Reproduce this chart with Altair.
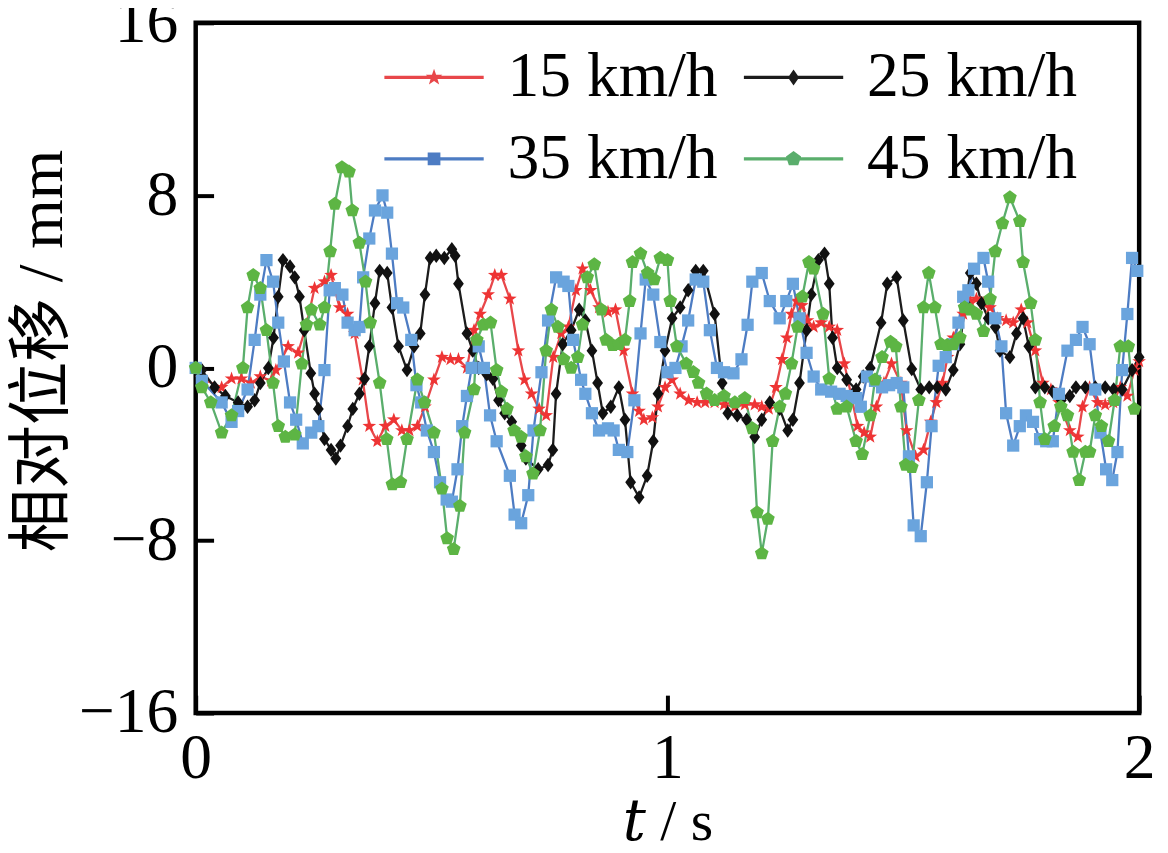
import altair as alt
import pandas as pd

speeds = ["15 km/h", "25 km/h", "35 km/h", "45 km/h"]
line_colors = ["#e8474a", "#1c1c1c", "#4d7cc3", "#5aae6c"]
marker_colors = ["#ee3434", "#111111", "#6aa4dd", "#5db544"]

t_15 = [0, 0.013, 0.055, 0.076, 0.097, 0.117, 0.137, 0.16, 0.17, 0.196, 0.217, 0.235, 0.252, 0.273,
        0.287, 0.305, 0.322, 0.337, 0.354, 0.368, 0.385, 0.402, 0.42, 0.437, 0.453, 0.47, 0.486, 0.505,
        0.522, 0.54, 0.557, 0.575, 0.59, 0.603, 0.62, 0.634, 0.648, 0.666, 0.684, 0.697, 0.712, 0.728,
        0.743, 0.758, 0.775, 0.79, 0.806, 0.82, 0.837, 0.855, 0.874, 0.89, 0.907, 0.926, 0.94, 0.95,
        0.968, 0.98, 0.995, 1.01, 1.027, 1.045, 1.063, 1.08, 1.1, 1.12, 1.143, 1.164, 1.185, 1.2, 1.215,
        1.23, 1.243, 1.253, 1.263, 1.274, 1.285, 1.297, 1.31, 1.326, 1.343, 1.36, 1.375, 1.39, 1.403,
        1.417, 1.43, 1.443, 1.459, 1.475, 1.495, 1.507, 1.526, 1.543, 1.558, 1.57, 1.583, 1.594, 1.606,
        1.627, 1.642, 1.655, 1.67, 1.684, 1.7, 1.718, 1.733, 1.75, 1.763, 1.78, 1.796, 1.813, 1.83,
        1.853, 1.87, 1.88, 1.895, 1.912, 1.928, 1.945, 1.96, 1.975, 1.99, 2.0]
v_15 = [0, -0.5, -0.9, -0.5, -0.5, -0.7, -0.4, -0.6, -0.1, 1.0, 0.7, 2.0, 3.7, 4.0,
        4.3, 2.8, 2.5, 1.6, -0.55, -2.7, -3.4, -2.7, -2.4, -2.9, -2.9, -2.7, -1.8, -0.55,
        0.5, 0.4, 0.4, 0, 1.75, 2.5, 3.4, 4.3, 4.3, 3.2, 0.8, -0.55, -1.2, -1.9,
        -2.2, 0.5, 1.6, 1.9, 3.6, 4.6, 3.6, 2.8, 2.6, 2.7, 0.8, -1.2, -2.0, -2.4,
        -2.3, -1.8, -0.9, -0.55, -1.2, -1.5, -1.6, -1.6, -1.6, -1.7, -1.8, -1.7, -1.7, -1.8, -1.9,
        -0.9, 0.4, 1.4, 2.5, 3.1, 2.9, 2.2, 1.9, 2.1, 1.9, 1.75, 0.2, -1.3, -2.7,
        -3.0, -3.2, -1.8, -0.7, 0.2, -0.7, -2.9, -4.1, -3.8, -2.5, -1.6, -0.7, 0.5, 1.4,
        2.5, 3.1, 3.2, 3.0, 2.8, 2.3, 2.2, 2.1, 2.7, 2.1, 0.8, -0.7, -1.0, -1.6,
        -2.9, -3.2, -1.8, -0.9, -1.6, -1.7, -1.6, -0.9, -1.3, -0.1, 0.3]

t_25 = [0, 0.013, 0.04, 0.063, 0.09, 0.11, 0.125, 0.137, 0.154, 0.165, 0.175, 0.185, 0.2, 0.21, 0.22,
        0.23, 0.244, 0.252, 0.26, 0.273, 0.287, 0.297, 0.307, 0.322, 0.333, 0.347, 0.358, 0.368, 0.38,
        0.39, 0.406, 0.416, 0.43, 0.448, 0.463, 0.476, 0.486, 0.497, 0.51, 0.527, 0.543, 0.55, 0.557,
        0.575, 0.587, 0.6, 0.617, 0.63, 0.642, 0.655, 0.67, 0.69, 0.7, 0.726, 0.747, 0.757, 0.764,
        0.778, 0.796, 0.813, 0.826, 0.84, 0.852, 0.863, 0.88, 0.897, 0.91, 0.922, 0.94, 0.957, 0.97,
        0.98, 0.995, 1.01, 1.027, 1.044, 1.06, 1.076, 1.1, 1.116, 1.128, 1.148, 1.168, 1.185, 1.2,
        1.217, 1.238, 1.255, 1.266, 1.28, 1.295, 1.305, 1.32, 1.333, 1.343, 1.35, 1.36, 1.38, 1.4,
        1.415, 1.43, 1.453, 1.466, 1.486, 1.5, 1.518, 1.537, 1.555, 1.572, 1.59, 1.606, 1.62, 1.632,
        1.642, 1.655, 1.666, 1.68, 1.695, 1.705, 1.726, 1.74, 1.754, 1.766, 1.78, 1.8, 1.817, 1.835,
        1.853, 1.866, 1.886, 1.907, 1.928, 1.946, 1.964, 1.985, 2.0]
v_25 = [0, -0.1, -0.9, -1.3, -1.6, -1.8, -1.5, -0.7, 0, 1.4, 3.3, 5.0, 4.7, 4.2, 3.3,
        1.75, -0.25, -1.2, -1.9, -3.3, -3.8, -4.2, -3.6, -2.7, -1.9, -1.2, -0.5, 1.0, 3.0,
        4.5, 4.4, 2.8, 1.0, -0.1, 1.0, 1.6, 3.4, 5.1, 5.2, 5.1, 5.5, 5.2, 3.9,
        1.6, 0.8, 0, -0.3, -0.5, -1.5, -2.1, -2.5, -3.6, -4.2, -4.7, -4.5, -3.8, -1.2,
        1.1, 1.75, 2.7, 2.2, 0.8, -0.7, -2.1, -1.8, -0.9, -2.4, -5.3, -6.0, -5.0, -3.4,
        -1.2, 0.8, 2.3, 2.8, 3.6, 4.5, 4.5, 2.5, -0.7, -2.1, -2.2, -2.4, -3.2, -2.4,
        -1.6, -1.9, -2.9, -2.4, -0.7, 1.75, 3.4, 5.0, 5.3, 3.9, 1.4, 0, -0.55, -1.0,
        -0.4, 0, 2.1, 3.9, 4.2, 2.2, -0.05, -1.0, -0.9, -0.9, -1.0, -0.1, 1.1, 3.0,
        4.4, 3.9, 3.0, 2.3, 1.9, 0.8, 0.5, 1.6, 2.3, 1.0, -0.9, -0.9, -1.1, -1.5,
        -1.3, -0.9, -0.9, -0.9, -0.9, -1.0, -1.0, -0.1, 0.5]

t_35 = [0, 0.013, 0.055, 0.076, 0.09, 0.11, 0.125, 0.137, 0.15, 0.164, 0.175, 0.187, 0.2, 0.213,
        0.227, 0.245, 0.26, 0.273, 0.284, 0.295, 0.311, 0.322, 0.337, 0.347, 0.355, 0.368, 0.38,
        0.396, 0.406, 0.416, 0.427, 0.44, 0.457, 0.468, 0.478, 0.49, 0.505, 0.518, 0.532, 0.543,
        0.555, 0.565, 0.575, 0.585, 0.6, 0.611, 0.624, 0.638, 0.666, 0.676, 0.69, 0.705, 0.716,
        0.733, 0.747, 0.764, 0.78, 0.79, 0.8, 0.817, 0.826, 0.84, 0.855, 0.874, 0.886, 0.897, 0.915,
        0.93, 0.943, 0.954, 0.97, 0.985, 1.0, 1.017, 1.03, 1.044, 1.06, 1.076, 1.09, 1.105, 1.12,
        1.14, 1.157, 1.17, 1.18, 1.2, 1.217, 1.238, 1.252, 1.266, 1.28, 1.295, 1.31, 1.326, 1.347,
        1.365, 1.38, 1.4, 1.41, 1.423, 1.44, 1.455, 1.47, 1.486, 1.5, 1.512, 1.522, 1.537, 1.55,
        1.56, 1.575, 1.59, 1.606, 1.617, 1.627, 1.638, 1.65, 1.67, 1.68, 1.695, 1.708, 1.718, 1.733,
        1.747, 1.76, 1.775, 1.79, 1.803, 1.817, 1.83, 1.848, 1.866, 1.88, 1.895, 1.907, 1.918, 1.93,
        1.943, 1.954, 1.964, 1.975, 1.985, 1.996]
v_35 = [0, -0.6, -1.6, -2.5, -2.0, -1.0, 1.3, 3.4, 5.0, 4.0, 2.1, 0.3, -1.6, -2.4,
        -3.5, -3.0, -2.7, -0.1, 3.6, 3.7, 3.4, 2.1, 1.75, 1.9, 4.2, 6.0, 7.3,
        8.0, 7.2, 5.3, 3.0, 2.8, 1.3, -0.8, -1.6, -2.9, -3.9, -5.3, -6.1, -6.2,
        -4.7, -2.7, -1.3, 0, 1.0, 0, -2.2, -3.4, -5.0, -6.8, -7.2, -5.9, -2.9,
        -0.2, 2.2, 4.2, 4.0, 3.8, 1.3, -0.55, -1.2, -2.1, -2.9, -2.8, -2.9, -3.8, -3.9,
        -1.5, 1.6, 4.1, 3.4, 1.2, -0.2, 0, 1.0, 2.2, 4.1, 4.0, 1.75, 0, -0.2,
        -0.25, 0.4, 2.0, 4.0, 4.4, 3.1, 2.3, 3.1, 3.9, 2.3, 0.7, -0.4, -1.0, -1.1,
        -1.2, -1.3, -1.4, -1.8, -0.4, -0.6, -0.9, -0.8, -0.7, -0.9, -4.1, -7.3, -7.8, -5.3,
        -2.7, 0.1, 0.5, 1.1, 2.1, 3.3, 3.6, 4.6, 5.1, 4.0, 2.3, 1.0, -2.1, -3.6,
        -2.7, -2.2, -2.5, -3.3, -3.4, -3.4, -1.2, 0.8, 1.3, 1.9, 1.1, -1.0, -3.0, -4.7,
        -5.2, -3.9, -0.1, 2.5, 5.1, 4.5]

t_45 = [0, 0.013, 0.032, 0.055, 0.076, 0.1, 0.11, 0.122, 0.137, 0.15, 0.164, 0.175, 0.19, 0.21,
        0.225, 0.235, 0.245, 0.263, 0.273, 0.285, 0.295, 0.31, 0.325, 0.332, 0.347, 0.36, 0.37, 0.39,
        0.405, 0.417, 0.434, 0.448, 0.47, 0.485, 0.505, 0.522, 0.533, 0.547, 0.56, 0.57, 0.59, 0.596,
        0.61, 0.625, 0.638, 0.648, 0.66, 0.675, 0.69, 0.7, 0.715, 0.73, 0.743, 0.754, 0.768, 0.78,
        0.796, 0.81, 0.82, 0.83, 0.845, 0.86, 0.87, 0.884, 0.897, 0.91, 0.92, 0.926, 0.943, 0.958,
        0.972, 0.985, 1.0, 1.006, 1.02, 1.04, 1.055, 1.066, 1.083, 1.1, 1.12, 1.143, 1.164, 1.18,
        1.19, 1.2, 1.213, 1.223, 1.238, 1.25, 1.263, 1.276, 1.286, 1.3, 1.31, 1.33, 1.343, 1.36,
        1.38, 1.4, 1.413, 1.43, 1.44, 1.455, 1.473, 1.484, 1.495, 1.505, 1.518, 1.533, 1.543, 1.554,
        1.567, 1.58, 1.593, 1.606, 1.62, 1.63, 1.642, 1.655, 1.67, 1.684, 1.695, 1.71, 1.726, 1.747,
        1.754, 1.77, 1.78, 1.79, 1.8, 1.82, 1.834, 1.848, 1.86, 1.873, 1.886, 1.895, 1.907, 1.92,
        1.935, 1.948, 1.96, 1.977, 1.99]
v_45 = [0, -0.9, -1.6, -3.0, -2.2, 0, 2.8, 4.3, 3.7, 1.75, -0.7, -2.7, -3.2, -3.1,
        0.2, 2.0, 2.7, 2.0, 2.8, 5.4, 7.6, 9.3, 9.1, 7.3, 5.8, 4.0, 2.1, -0.7,
        -3.3, -5.4, -5.3, -3.3, -0.55, -1.6, -3.0, -5.6, -7.9, -8.4, -6.4, -3.0, -1.0, 1.3,
        2.0, 2.1, -0.1, -1.1, -1.9, -2.9, -3.2, -4.1, -4.9, -2.9, 0.8, 2.7, 1.9, 0.4,
        0, 0.5, 2.0, 4.2, 4.8, 2.7, 1.3, 1.05, 1.1, 1.3, 3.1, 4.9, 5.3, 4.4,
        4.1, 5.1, 5.0, 3.1, 1.0, 0.2, -0.2, -0.7, -1.2, -1.5, -1.3, -1.6, -1.4, -2.8,
        -6.7, -8.6, -7.0, -3.4, -1.8, -1.2, 0.2, 1.9, 3.3, 4.9, 4.6, 2.5, -0.5, -1.9,
        -1.8, -3.4, -4.0, -2.2, -0.55, 0.5, 1.2, 1.0, -1.8, -4.5, -4.6, -1.5, 2.8, 4.4,
        2.8, 1.1, 1.05, 1.1, 1.4, 2.8, 2.7, 2.5, 1.7, 3.2, 5.4, 6.7, 7.9, 6.8,
        4.9, 3.0, 1.3, -1.6, -3.3, -2.7, -1.8, -2.2, -3.9, -5.2, -3.9, -3.9, -2.2, -2.7,
        -3.4, -1.5, 1.0, 1.0, -1.9]

y_ticks = [-16, -8, 0, 8, 16]
x_ticks = [0, 1, 2]

# marker outlines in the unit box (drawn at sqrt(size) px)
STAR = ("M0,-1L0.235,-0.324L0.951,-0.309L0.380,0.124L0.588,0.809L0,0.4"
        "L-0.588,0.809L-0.380,0.124L-0.951,-0.309L-0.235,-0.324Z")
DIAMOND = "M0,-1L0.75,0L0,1L-0.75,0Z"
SQUARE = "M-0.85,-0.85H0.85V0.85H-0.85Z"
PENTAGON = "M0,-1L0.951,-0.309L0.588,0.809L-0.588,0.809L-0.951,-0.309Z"
marker_shapes = [STAR, DIAMOND, SQUARE, PENTAGON]

# legend keys: short line segment with the marker in the middle
SEG = "M-1.25,-0.04H1.25V0.04H-1.25Z"
legend_shapes = [
    SEG + "M0,-0.22L0.052,-0.071L0.209,-0.068L0.084,0.027L0.129,0.178L0,0.088"
          "L-0.129,0.178L-0.084,0.027L-0.209,-0.068L-0.052,-0.071Z",
    SEG + "M0,-0.2L0.14,0L0,0.2L-0.14,0Z",
    SEG + "M-0.16,-0.16H0.16V0.16H-0.16Z",
    SEG + "M0,-0.2L0.19,-0.062L0.118,0.162L-0.118,0.162L-0.19,-0.062Z",
]

frames = []
for name, ts, vs in zip(speeds, [t_15, t_25, t_35, t_45], [v_15, v_25, v_35, v_45]):
    frames.append(pd.DataFrame({"t": ts, "v": vs, "speed": name}))
df = pd.concat(frames, ignore_index=True)

SERIF = "Liberation Serif"

x_enc = alt.X(
    "t:Q",
    scale=alt.Scale(domain=[0, 2], nice=False),
    axis=alt.Axis(
        values=x_ticks, tickCount=10, tickMinStep=0.5, format="d", title="𝑡 / s", offset=-18,
        tickSize=18, tickWidth=4, tickColor="black", domain=False, grid=False, labelPadding=14,
        titlePadding=3, labelFlush=False, labelOverlap=False, labelBound=False, titleFontSize=58,
    ),
)
y_enc = alt.Y(
    "v:Q",
    scale=alt.Scale(domain=[-16, 16], nice=False),
    axis=alt.Axis(
        values=y_ticks, tickCount=10, tickMinStep=1, format="d", title="相对位移 / mm", offset=-18,
        tickSize=18, tickWidth=4, tickColor="black", domain=False, grid=False, labelPadding=18,
        titlePadding=4, labelFlush=False, labelOverlap=False, titleY=330, titleFontSize=64,
    ),
)

lines = alt.Chart(df).mark_line(strokeWidth=2.3).encode(
    x=x_enc,
    y=y_enc,
    color=alt.Color("speed:N", scale=alt.Scale(domain=speeds, range=line_colors), legend=None),
    detail="speed:N",
)

points = alt.Chart(df).mark_point(filled=True, size=210, opacity=1, strokeWidth=0).encode(
    x=x_enc,
    y=y_enc,
    color=alt.Color("speed:N", scale=alt.Scale(domain=speeds, range=marker_colors), legend=None),
    shape=alt.Shape("speed:N", scale=alt.Scale(domain=speeds, range=marker_shapes), legend=None),
)

key = alt.Legend(
    orient="none", legendX=200, legendY=15, columns=2, direction="horizontal", title=None,
    padding=0, labelFont=SERIF, labelFontSize=64, labelColor="black", labelOffset=34,
    labelLimit=0, symbolSize=6400, symbolStrokeWidth=0, symbolOpacity=1,
    columnPadding=26, rowPadding=10,
)
legend_layer = alt.Chart(df).mark_point(filled=True, opacity=0).encode(
    x=x_enc,
    y=y_enc,
    color=alt.Color("speed:N", scale=alt.Scale(domain=speeds, range=line_colors), legend=key),
    shape=alt.Shape("speed:N", scale=alt.Scale(domain=speeds, range=legend_shapes), legend=key),
)

chart = (
    alt.layer(lines, points, legend_layer)
    .resolve_scale(color="independent", shape="independent")
    .properties(
        width=950,
        height=695,
        autosize=alt.AutoSizeParams(type="none"),
        padding={"left": 189, "top": 12, "right": 21, "bottom": 137},
    )
    .configure_view(stroke="black", strokeWidth=4.5)
    .configure_axis(
        labelFont=SERIF, labelFontSize=64, labelColor="black",
        titleFont=SERIF + ", DejaVu Serif, Noto Sans CJK SC",
        titleFontWeight="normal", titleColor="black",
    )
)

chart.save("out.html", embed_options={"renderer": "svg", "actions": False})
